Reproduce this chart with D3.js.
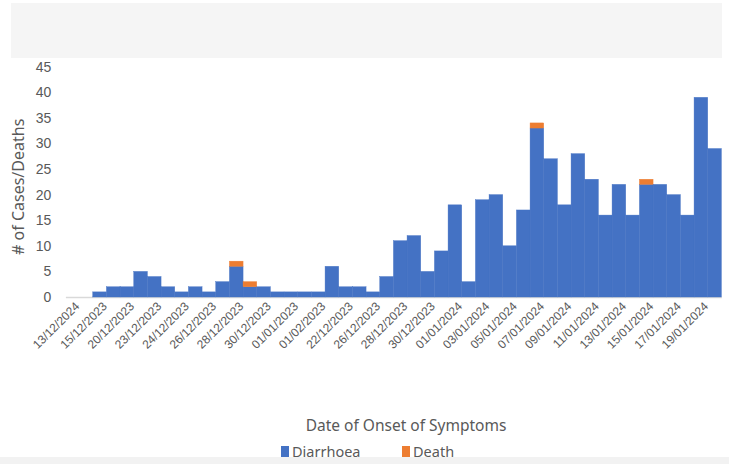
<!DOCTYPE html>
<html lang="en">
<head>
  <meta charset="UTF-8">
  <title>Cases/Deaths by Date of Onset</title>
  <script src="https://d3js.org/d3.v7.min.js"></script>
  <style>
    body {
      margin: 0;
      background: #fff;
    }

    svg {
      display: block;
      font-family: "Noto Sans", sans-serif;
    }
  </style>
</head>
<body>
  <svg width="729" height="464"></svg>

  <script>
    // one entry per day bar; "" = bar without a printed label
    const dateLabels = [
      "13/12/2024", "", "15/12/2023", "", "20/12/2023", "", "23/12/2023", "",
      "24/12/2023", "", "26/12/2023", "", "28/12/2023", "", "30/12/2023", "",
      "01/01/2023", "", "01/02/2023", "", "22/12/2023", "", "26/12/2023", "",
      "28/12/2023", "", "30/12/2023", "", "01/01/2024", "", "03/01/2024", "",
      "05/01/2024", "", "07/01/2024", "", "09/01/2024", "", "11/01/2024", "",
      "13/01/2024", "", "15/01/2024", "", "17/01/2024", "", "19/01/2024", ""
    ];

    const diarrhoea = [
      0, 0, 1, 2, 2, 5, 4, 2, 1, 2, 1, 3, 6, 2, 2, 1,
      1, 1, 1, 6, 2, 2, 1, 4, 11, 12, 5, 9, 18, 3, 19, 20,
      10, 17, 33, 27, 18, 28, 23, 16, 22, 16, 22, 22, 20, 16, 39, 29
    ];

    const deaths = [
      0, 0, 0, 0, 0, 0, 0, 0, 0, 0, 0, 0, 1, 1, 0, 0,
      0, 0, 0, 0, 0, 0, 0, 0, 0, 0, 0, 0, 0, 0, 0, 0,
      0, 0, 1, 0, 0, 0, 0, 0, 0, 0, 1, 0, 0, 0, 0, 0
    ];

    const seriesNames = ["Diarrhoea", "Death"];
    const seriesColors = ["#4472c4", "#ed7d31"];
    const yTicks = [0, 5, 10, 15, 20, 25, 30, 35, 40, 45];

    const width = 729;
    const height = 464;
    const margin = { top: 66.6, right: 7.6, bottom: 167, left: 65.4 };
    const textColor = "#595959";

    const svg = d3.select("svg");

    // grey header strip
    svg.append("rect")
      .attr("x", 11).attr("y", 3)
      .attr("width", 711).attr("height", 55)
      .attr("fill", "#f5f5f5");

    const rows = dateLabels.map((d, i) => ({
      idx: i,
      Diarrhoea: diarrhoea[i],
      Death: deaths[i]
    }));

    const stacked = d3.stack().keys(seriesNames)(rows);

    const x = d3.scaleBand()
      .domain(rows.map(d => d.idx))
      .range([margin.left, width - margin.right])
      .padding(0);

    const y = d3.scaleLinear()
      .domain([0, 45])
      .range([height - margin.bottom, margin.top]);

    const color = d3.scaleOrdinal().domain(seriesNames).range(seriesColors);

    // y axis, labels only
    const yAxis = svg.append("g")
      .attr("transform", `translate(${margin.left},0)`)
      .call(d3.axisLeft(y).tickValues(yTicks).tickSize(0).tickPadding(14));
    yAxis.select(".domain").remove();
    yAxis.selectAll("text")
      .attr("fill", textColor)
      .style("font-size", "14px");

    // x axis
    const xAxis = svg.append("g")
      .attr("transform", `translate(0,${y(0)})`)
      .call(d3.axisBottom(x)
        .tickValues(rows.filter(d => dateLabels[d.idx] !== "").map(d => d.idx))
        .tickFormat(i => dateLabels[i])
        .tickSize(0));
    xAxis.select(".domain")
      .attr("stroke", "#d9d9d9")
      .attr("stroke-width", 1.5);
    xAxis.selectAll("text")
      .attr("fill", textColor)
      .style("font-size", "12px")
      .attr("text-anchor", "end")
      .attr("x", 0)
      .attr("y", 0)
      .attr("dy", "0.71em")
      .attr("transform", "translate(2,4) rotate(-45)");

    // bars
    svg.append("g")
      .selectAll("g")
      .data(stacked)
      .join("g")
      .attr("fill", d => color(d.key))
      .attr("stroke", d => color(d.key))
      .attr("stroke-width", 0.4)
      .selectAll("rect")
      .data(d => d.filter(v => v[1] > v[0]))
      .join("rect")
      .attr("x", d => x(d.data.idx))
      .attr("y", d => y(d[1]))
      .attr("width", x.bandwidth())
      .attr("height", d => y(d[0]) - y(d[1]));

    // axis titles
    svg.append("text")
      .attr("transform", `translate(24,${(y(0) + y(45)) / 2 + 5}) rotate(-90)`)
      .attr("text-anchor", "middle")
      .attr("fill", textColor)
      .style("font-size", "16px")
      .text("# of Cases/Deaths");

    svg.append("text")
      .attr("x", 406)
      .attr("y", 431)
      .attr("text-anchor", "middle")
      .attr("fill", textColor)
      .style("font-size", "15.5px")
      .text("Date of Onset of Symptoms");

    // legend
    const legend = svg.append("g")
      .selectAll("g")
      .data(seriesNames)
      .join("g")
      .attr("transform", (d, i) => `translate(${281 + i * 121},446)`);

    legend.append("rect")
      .attr("width", 8)
      .attr("height", 11)
      .attr("fill", d => color(d));

    legend.append("text")
      .attr("x", 11)
      .attr("y", 11)
      .attr("fill", textColor)
      .style("font-size", "14.5px")
      .text(d => d);

    // bottom band clipping the legend
    svg.append("rect")
      .attr("x", 0).attr("y", 457)
      .attr("width", width).attr("height", 7)
      .attr("fill", "#f2f2f2");
  </script>
</body>
</html>
